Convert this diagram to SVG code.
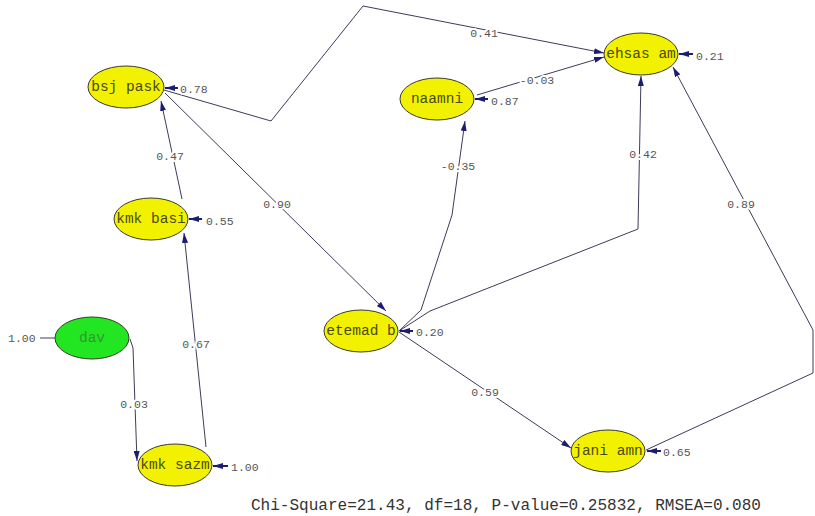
<svg xmlns="http://www.w3.org/2000/svg" width="815" height="516" viewBox="0 0 815 516">
<defs>
<marker id="ah" viewBox="0 0 10 6" refX="10" refY="3" markerWidth="10" markerHeight="6" markerUnits="userSpaceOnUse" orient="auto"><path d="M0,0 L10,3 L0,6 z" fill="#1c1c72"/></marker>
<style>
.node ellipse{stroke:#3a3a2a;stroke-width:1}
.y{fill:#f2f200}
.g{fill:#22e622}
.nt{font-family:"Liberation Mono",monospace;font-size:14.5px;fill:#4a4a00;text-anchor:middle;dominant-baseline:central}
.dt{fill:#2f9a2f}
.e{fill:none;stroke:#3c3c58;stroke-width:1;marker-end:url(#ah)}
.er{fill:none;stroke:#1c1c72;stroke-width:2;marker-end:url(#ah)}
.l{font-family:"Liberation Mono",monospace;font-size:11.5px;fill:#555;dominant-baseline:central;paint-order:stroke;stroke:#fff;stroke-width:4px}
.lc{text-anchor:middle}
.st{font-family:"Liberation Mono",monospace;font-size:16px;fill:#333}
</style>
</defs>
<rect width="815" height="516" fill="#fff"/>
<g id="connectors">
<polyline class="e" points="164,90 271,121 363,6 604,53"/>
<line class="e" x1="165" y1="93" x2="386" y2="311"/>
<line class="e" x1="182" y1="199" x2="161" y2="101"/>
<line class="e" x1="206" y1="447" x2="184" y2="233"/>
<polyline class="e" points="130,339 133,348 137,461"/>
<line x1="40" y1="338" x2="55" y2="338" stroke="#3c3c58" stroke-width="1"/>
<polyline class="e" points="399,331 421,310 438,258 452,215 465,121"/>
<polyline class="e" points="399,331 430,311 638,229 641,76"/>
<line class="e" x1="399" y1="332" x2="571" y2="448"/>
<polyline class="e" points="646,450 813,373 813,330 673,67"/>
<line class="e" x1="477" y1="95" x2="604" y2="57"/>
<line class="er" x1="178" y1="88" x2="165" y2="88"/>
<line class="er" x1="202" y1="219" x2="189" y2="219"/>
<line class="er" x1="228" y1="466" x2="213" y2="466"/>
<line class="er" x1="413" y1="331" x2="400" y2="331"/>
<line class="er" x1="488" y1="99" x2="475" y2="99"/>
<line class="er" x1="693" y1="54" x2="679" y2="54"/>
<line class="er" x1="661" y1="451" x2="647" y2="451"/>
<text class="l lc" x="484" y="33">0.41</text>
<text class="l lc" x="277" y="204">0.90</text>
<text class="l lc" x="170" y="156">0.47</text>
<text class="l lc" x="196" y="344">0.67</text>
<text class="l lc" x="134" y="404">0.03</text>
<text class="l lc" x="458" y="166">-0.35</text>
<text class="l lc" x="643" y="154">0.42</text>
<text class="l lc" x="485" y="392">0.59</text>
<text class="l lc" x="741" y="204">0.89</text>
<text class="l lc" x="537" y="80">-0.03</text>
<text class="l" x="8" y="338">1.00</text>
<text class="l" x="180" y="89">0.78</text>
<text class="l" x="206" y="221">0.55</text>
<text class="l" x="231" y="467">1.00</text>
<text class="l" x="416" y="332">0.20</text>
<text class="l" x="491" y="101">0.87</text>
<text class="l" x="696" y="56">0.21</text>
<text class="l" x="663" y="452">0.65</text>
</g>
<g id="n-bsjpask" class="node"><ellipse class="y" cx="126" cy="87" rx="38" ry="21"/><text class="nt" x="126" y="87">bsj pask</text></g>
<g id="n-kmkbasi" class="node"><ellipse class="y" cx="151" cy="219" rx="37" ry="21"/><text class="nt" x="151" y="219">kmk basi</text></g>
<g id="n-dav" class="node"><ellipse class="g" cx="92" cy="338" rx="37" ry="21"/><text class="nt dt" x="92" y="338">dav</text></g>
<g id="n-kmksazm" class="node"><ellipse class="y" cx="175" cy="465" rx="37" ry="21"/><text class="nt" x="175" y="465">kmk sazm</text></g>
<g id="n-etemadb" class="node"><ellipse class="y" cx="361" cy="331" rx="37" ry="21"/><text class="nt" x="361" y="331">etemad b</text></g>
<g id="n-naamni" class="node"><ellipse class="y" cx="437" cy="99" rx="37" ry="21"/><text class="nt" x="437" y="99">naamni</text></g>
<g id="n-ehsasam" class="node"><ellipse class="y" cx="641" cy="54" rx="37" ry="21"/><text class="nt" x="641" y="54">ehsas am</text></g>
<g id="n-janiamn" class="node"><ellipse class="y" cx="608" cy="451" rx="37" ry="21"/><text class="nt" x="608" y="451">jani amn</text></g>
<text class="st" x="251" y="510" textLength="510" lengthAdjust="spacingAndGlyphs">Chi-Square=21.43, df=18, P-value=0.25832, RMSEA=0.080</text>
</svg>
